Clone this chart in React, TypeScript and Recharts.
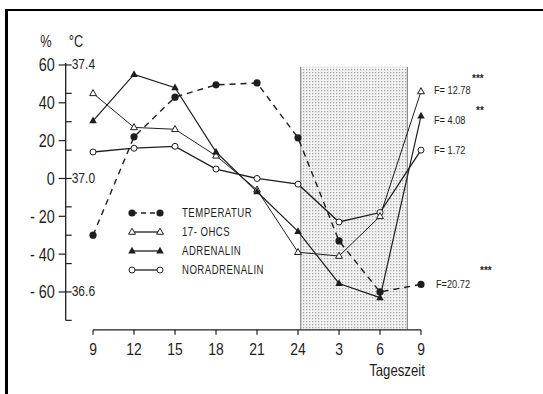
import React from 'react';
import { LineChart, Line, XAxis, YAxis, ReferenceArea, ReferenceLine } from 'recharts';

// Time of day (hours, continuing past midnight) and their labels
const hours = [9, 12, 15, 18, 21, 24, 27, 30, 33];
const hourLabels = ['9', '12', '15', '18', '21', '24', '3', '6', '9'];

// Series values (% deviation)
const temperatur = [-30, 22, 43, 49.5, 50.5, 21.5, -33, -60, -56];
const ohcs = [45, 27, 26, 12, -6, -39, -41, -20, 46];
const adrenalin = [30.5, 55, 48, 14, -7, -28, -55.5, -63, 33];
const noradrenalin = [14, 16, 17, 5, 0, -3, -23, -18, 15];

// Axis ticks
const percentTicks = [-60, -40, -20, 0, 20, 40, 60];
const celsiusTicks = [-75, -60, -45, -30, -15, 0, 15, 30, 45, 60];
const celsiusLabelTicks = [-60, 0, 60];
const allYTicks = Array.from(new Set([...percentTicks, ...celsiusTicks])).sort((a, b) => a - b);

// Night period (shaded)
const nightStart = 24.2;
const nightEnd = 32;

// F statistics
const fLabels = ['F= 12.78', 'F=  4.08', 'F= 1.72', 'F=20.72'];
const fStars = ['***', '**', '', '***'];

const data = hours.map((h, i) => ({
  h,
  temperatur: temperatur[i],
  ohcs: ohcs[i],
  adrenalin: adrenalin[i],
  noradrenalin: noradrenalin[i],
}));

const FONT = '"Liberation Sans", Arial, sans-serif';
const INK = '#1e1e1e';

// Condensed text helper (the original uses a narrow typeface)
const CText = (p: any) => (
  <text
    transform={`translate(${p.x},${p.y}) scale(${p.sx ?? 0.8},1)`}
    dy={p.dy ?? '0.36em'}
    textAnchor={p.anchor ?? 'start'}
    fontSize={p.size}
    fontFamily={FONT}
    fontWeight={p.weight}
    letterSpacing={p.ls}
    fill={INK}
  >
    {p.children}
  </text>
);

const FilledCircle = (p: any) => <circle key={p.key ?? p.index} cx={p.cx} cy={p.cy} r={3.6} fill={INK} />;
const OpenCircle = (p: any) => <circle key={p.key ?? p.index} cx={p.cx} cy={p.cy} r={3} fill="#fff" stroke={INK} strokeWidth={1} />;
const triPath = (cx: number, cy: number, s: number) =>
  `M${cx},${cy - s} L${cx + s * 0.9},${cy + s * 0.6} L${cx - s * 0.9},${cy + s * 0.6} Z`;
const FilledTri = (p: any) => <path key={p.key ?? p.index} d={triPath(p.cx, p.cy, 4.2)} fill={INK} />;
const OpenTri = (p: any) => <path key={p.key ?? p.index} d={triPath(p.cx, p.cy, 3.8)} fill="#fff" stroke={INK} strokeWidth={1} />;

const YTick = (props: any) => {
  const { x, y, payload } = props;
  const v = payload.value;
  const isPct = percentTicks.includes(v);
  const isC = celsiusTicks.includes(v);
  const isCLabel = celsiusLabelTicks.includes(v);
  return (
    <g>
      {isPct && <line x1={x - 7} x2={x} y1={y} y2={y} stroke={INK} strokeWidth={1.2} />}
      {isPct && (
        <CText x={x - 11} y={y} anchor="end" size={18} sx={0.8}>
          {v < 0 ? `- ${-v}` : `${v}`}
        </CText>
      )}
      {isC && <line x1={x} x2={x + 6} y1={y} y2={y} stroke={INK} strokeWidth={1.2} />}
      {isCLabel && (
        <CText x={x + 6} y={y - 1} anchor="start" size={15} sx={0.8}>
          {(37 + v / 150).toFixed(1)}
        </CText>
      )}
    </g>
  );
};

const XTick = (props: any) => {
  const { x, y, payload } = props;
  const v = payload.value;
  return (
    <CText x={x} y={y} dy="0.75em" anchor="middle" size={17} sx={0.82}>
      {hourLabels[hours.indexOf(v)] ?? String(v)}
    </CText>
  );
};

const legendRows = [
  { label: 'TEMPERATUR', dashed: true, Marker: FilledCircle },
  { label: '17- OHCS', dashed: false, Marker: OpenTri },
  { label: 'ADRENALIN', dashed: false, Marker: FilledTri },
  { label: 'NORADRENALIN', dashed: false, Marker: OpenCircle },
];

export default function App() {
  return (
    <div style={{ position: 'absolute', left: 0, top: 0, width: 543, height: 394, background: '#fff', overflow: 'hidden' }}>
      <div
        style={{
          position: 'absolute',
          left: 5,
          top: 9,
          width: 560,
          height: 400,
          borderTop: '2px solid #000',
          borderLeft: '3px solid #000',
        }}
      />
      <div style={{ position: 'absolute', left: 0, top: 0 }}>
        <LineChart
          width={543}
          height={394}
          data={data}
          margin={{ top: 61.2, right: 122, bottom: 34.2, left: 5.7 }}
        >
          <defs>
            <pattern id="dots" width="3" height="3" patternUnits="userSpaceOnUse">
              <rect width="3" height="3" fill="#f3f3f3" />
              <rect x="0" y="0" width="1.3" height="1.3" fill="#a8a8a8" />
            </pattern>
          </defs>
          <XAxis
            dataKey="h"
            type="number"
            domain={[7, 33]}
            ticks={hours}
            interval={0}
            axisLine={false}
            tickLine={{ stroke: INK, strokeWidth: 1.2 }}
            tickSize={5}
            tickMargin={7}
            height={30}
            tick={<XTick />}
          />
          <YAxis
            type="number"
            domain={[-80, 62]}
            ticks={allYTicks}
            interval={0}
            width={60}
            axisLine={false}
            tickLine={false}
            tickSize={0}
            tickMargin={0}
            tick={<YTick />}
          />
          <ReferenceArea x1={nightStart} x2={nightEnd} y1={-80} y2={59} fill="url(#dots)" fillOpacity={1} stroke="none" ifOverflow="visible" />
          <ReferenceLine segment={[{ x: nightStart, y: -80 }, { x: nightStart, y: 59 }]} stroke="#777" strokeWidth={1} ifOverflow="visible" />
          <ReferenceLine segment={[{ x: nightEnd, y: -80 }, { x: nightEnd, y: 59 }]} stroke="#777" strokeWidth={1} ifOverflow="visible" />
          <ReferenceLine segment={[{ x: 7, y: -75 }, { x: 7, y: 61 }]} stroke={INK} strokeWidth={1.3} ifOverflow="visible" />
          <ReferenceLine segment={[{ x: hours[0], y: -80 }, { x: hours[hours.length - 1], y: -80 }]} stroke={INK} strokeWidth={1.3} ifOverflow="visible" />

          <Line dataKey="noradrenalin" stroke={INK} strokeWidth={1.3} dot={OpenCircle} isAnimationActive={false} />
          <Line dataKey="ohcs" stroke={INK} strokeWidth={1} dot={OpenTri} isAnimationActive={false} />
          <Line dataKey="adrenalin" stroke={INK} strokeWidth={1.2} dot={FilledTri} isAnimationActive={false} />
          <Line dataKey="temperatur" stroke={INK} strokeWidth={1.4} strokeDasharray="6 5" dot={FilledCircle} isAnimationActive={false} />
        </LineChart>
      </div>
      <svg width={543} height={394} style={{ position: 'absolute', left: 0, top: 0, pointerEvents: 'none' }}>
        <CText x={46} y={41} anchor="middle" size={16}>%</CText>
        <CText x={76} y={41} anchor="middle" size={16}>°C</CText>
        <CText x={397} y={370} anchor="middle" size={16.5}>Tageszeit</CText>

        {legendRows.map((r, i) => {
          const y = 213 + i * 19;
          const M = r.Marker;
          return (
            <g key={r.label}>
              <line x1={132} x2={160} y1={y} y2={y} stroke={INK} strokeWidth={1.3} strokeDasharray={r.dashed ? '5 4' : undefined} />
              <M cx={132} cy={y} index={`a${i}`} />
              <M cx={160} cy={y} index={`b${i}`} />
              <CText x={182} y={y} size={12} sx={0.8} ls={0.6}>{r.label}</CText>
            </g>
          );
        })}

        {[
          { x: 434, y: 90, sx: 472, sy: 78 },
          { x: 434, y: 120, sx: 476, sy: 110 },
          { x: 434, y: 150, sx: 0, sy: 0 },
          { x: 436, y: 284, sx: 480, sy: 270 },
        ].map((p, i) => (
          <g key={i}>
            <CText x={p.x} y={p.y} size={11.5} sx={0.8}>{fLabels[i]}</CText>
            {fStars[i] && (
              <CText x={p.sx} y={p.sy} size={10} weight="bold" sx={1}>{fStars[i]}</CText>
            )}
          </g>
        ))}
      </svg>
    </div>
  );
}
